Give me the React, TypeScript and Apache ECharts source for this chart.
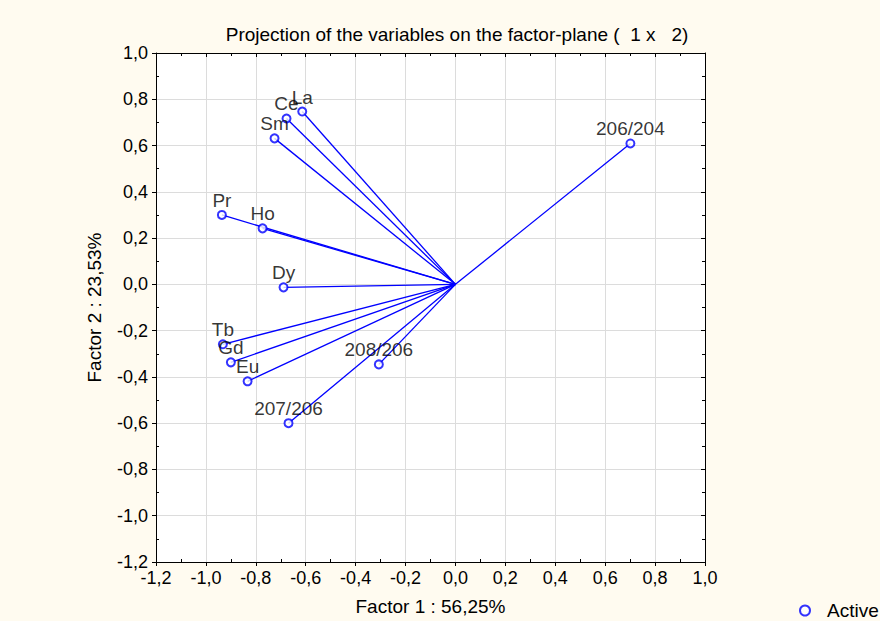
import React, { useEffect, useRef } from "react";
import * as echarts from "echarts";

const names = ["La", "Ce", "Sm", "Pr", "Ho", "Dy", "Tb", "Gd", "Eu", "208/206", "207/206", "206/204"];
const factor1 = [-0.614, -0.677, -0.725, -0.936, -0.773, -0.689, -0.932, -0.9, -0.833, -0.307, -0.669, 0.701];
const factor2 = [0.747, 0.717, 0.631, 0.3, 0.242, -0.013, -0.259, -0.337, -0.419, -0.346, -0.6, 0.609];
const axisMin = -1.2;
const axisMax = 1.0;
const axisStep = 0.2;

const fmt = (v: number) => v.toFixed(1).replace(".", ",");

export default function App() {
  const ref = useRef<HTMLDivElement>(null);
  useEffect(() => {
    if (!ref.current) return;
    const chart = echarts.init(ref.current, null, { renderer: "svg" });
    const font = "Liberation Sans, Arial, sans-serif";
    const blue = "#0000ff";
    const base = {
      type: "value",
      min: axisMin,
      max: axisMax,
      interval: axisStep,
    };
    const mainAxis = (name: string, gap: number, rotate: number | undefined, margin: number) => ({
      ...base,
      name,
      nameLocation: "middle",
      nameGap: gap,
      nameRotate: rotate,
      nameTextStyle: { color: "#000", fontSize: 19, fontFamily: font },
      axisLine: { show: true, onZero: false, lineStyle: { color: "#000", width: 1 } },
      axisTick: { show: true, inside: false, length: 4, lineStyle: { color: "#000" } },
      minorTick: { show: false },
      axisLabel: { show: true, color: "#000", fontSize: 18, fontFamily: font, formatter: fmt, margin },
      splitLine: { show: true, lineStyle: { color: "#dcdcdc", width: 1 } },
    });
    const helperAxis = (majorInside: boolean, line: boolean) => ({
      ...base,
      axisLine: { show: line, onZero: false, lineStyle: { color: "#000", width: 1 } },
      axisTick: { show: majorInside, inside: true, length: 4, lineStyle: { color: "#000" } },
      minorTick: { show: true, splitNumber: 2, length: 3, lineStyle: { color: "#000" } },
      axisLabel: { show: false },
      splitLine: { show: false },
    });
    const points = names.map((n, i) => ({ name: n, value: [factor1[i], factor2[i]] }));
    const lineData = names.map((n, i) => ({ coords: [[0, 0], [factor1[i], factor2[i]]] }));
    chart.setOption({
      animation: false,
      backgroundColor: "#fffbf0",
      title: {
        text: "Projection of the variables on the factor-plane (  1 x   2)",
        left: 452,
        textAlign: "center",
        top: 20,
        textStyle: { color: "#000", fontSize: 19, fontWeight: "normal", fontFamily: font },
      },
      legend: {
        left: 794,
        top: 596,
        itemWidth: 10,
        itemHeight: 10,
        data: [{ name: "Active", icon: "circle" }],
        textStyle: { color: "#000", fontSize: 19, fontFamily: font, padding: [0, 0, 0, 12] },
        itemStyle: { color: "#ffffff", borderColor: blue, borderWidth: 2 },
      },
      grid: {
        left: 156,
        right: 175,
        top: 53,
        bottom: 59,
        show: true,
        backgroundColor: "#fff",
        borderColor: "#000",
        borderWidth: 0,
      },
      xAxis: [
        { ...mainAxis("Factor 1 : 56,25%", 35, undefined, 7), position: "bottom" },
        { ...helperAxis(true, true), position: "top" },
        { ...helperAxis(false, false), position: "bottom" },
      ],
      yAxis: [
        { ...mainAxis("Factor 2 : 23,53%", 52, 90, 8), position: "left" },
        { ...helperAxis(true, true), position: "right" },
        { ...helperAxis(false, false), position: "left" },
      ],
      series: [
        {
          type: "lines",
          coordinateSystem: "cartesian2d",
          polyline: false,
          silent: true,
          lineStyle: { color: blue, width: 1.3, opacity: 1 },
          data: lineData,
        },
        {
          name: "Active",
          type: "scatter",
          symbol: "emptyCircle",
          symbolSize: 8,
          itemStyle: { color: blue, borderColor: blue, borderWidth: 1.6 },
          label: {
            show: true,
            position: "top",
            distance: 0,
            formatter: "{b}",
            color: "#000",
            fontSize: 19,
            fontFamily: font,
          },
          data: points,
        },
      ],
    });
    return () => chart.dispose();
  }, []);
  return <div ref={ref} style={{ width: 880, height: 621, position: "absolute", left: 0, top: 0 }} />;
}
